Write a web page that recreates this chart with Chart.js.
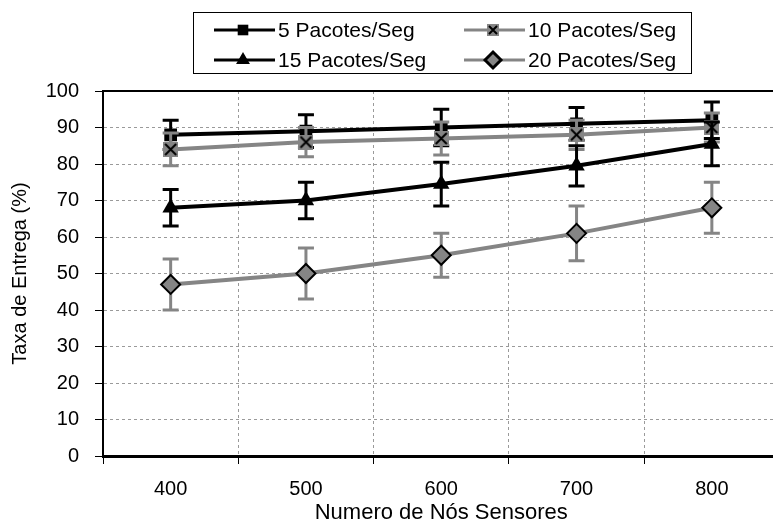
<!DOCTYPE html>
<html>
<head>
<meta charset="utf-8">
<script src="https://cdn.jsdelivr.net/npm/chart.js@4.4.0/dist/chart.umd.min.js"></script>
<style>
    html, body { margin: 0; padding: 0; background: #fff; overflow: hidden; }
    #wrap { width: 773px; height: 522px; overflow: hidden; }
</style>
</head>
<body>
<div id="wrap"><canvas id="entregaChart" width="791" height="522"></canvas></div>
<script>
// ---------------- data ----------------
var sensores = ['400', '500', '600', '700', '800'];
var nomes = ['5 Pacotes/Seg', '10 Pacotes/Seg', '15 Pacotes/Seg', '20 Pacotes/Seg'];
var taxa5  = [88, 89, 90, 91, 92];
var erro5  = [4, 4.5, 5, 4.5, 5];
var taxa10 = [84, 86, 87, 88, 90];
var erro10 = [4.5, 4, 4.5, 4, 4];
var taxa15 = [68, 70, 74.5, 79.5, 85.5];
var erro15 = [5, 5, 6, 5.5, 6];
var taxa20 = [47, 50, 55, 61, 68];
var erro20 = [7, 7, 6, 7.5, 7];
var yMin = 0, yMax = 100, yStep = 10;

var GRAY = '#858585';
var FONT = 'Liberation Sans, Arial, sans-serif';

// gray square with a black X (marker of 10 Pacotes/Seg)
function makeXBox(size) {
    var c = document.createElement('canvas');
    c.width = size; c.height = size;
    var g = c.getContext('2d');
    g.fillStyle = GRAY;
    g.fillRect(0, 0, size, size);
    g.strokeStyle = '#000';
    g.lineWidth = 2;
    g.beginPath();
    g.moveTo(2, 2); g.lineTo(size - 2, size - 2);
    g.moveTo(size - 2, 2); g.lineTo(2, size - 2);
    g.stroke();
    return c;
}
var xBox = makeXBox(15);
var xBoxSmall = makeXBox(12);

//--------- error bars, drawn under each dataset ---------
var errorBarsPlugin = {
    id: 'errorBars',
    beforeDatasetDraw: function(chart, args) {
        var ds = chart.data.datasets[args.index];
        var yScale = chart.scales.y;
        var ctx = chart.ctx;
        ctx.save();
        ctx.strokeStyle = ds.borderColor;
        ctx.lineWidth = 3;
        args.meta.data.forEach(function(pt, i) {
            var top = yScale.getPixelForValue(ds.data[i] + ds.errors[i]);
            var bot = yScale.getPixelForValue(ds.data[i] - ds.errors[i]);
            ctx.beginPath();
            ctx.moveTo(pt.x, top); ctx.lineTo(pt.x, bot);
            ctx.moveTo(pt.x - 8, top); ctx.lineTo(pt.x + 8, top);
            ctx.moveTo(pt.x - 8, bot); ctx.lineTo(pt.x + 8, bot);
            ctx.stroke();
        });
        ctx.restore();
    }
};

//--------- top border + boxed legend ---------
var framePlugin = {
    id: 'frame',
    beforeDatasetsDraw: function(chart) {
        var a = chart.chartArea, ctx = chart.ctx;
        ctx.save();
        ctx.strokeStyle = '#000';
        ctx.lineWidth = 2;
        ctx.beginPath();
        ctx.moveTo(a.left, a.top);
        ctx.lineTo(a.right, a.top);
        ctx.stroke();
        ctx.restore();
    },
    afterDraw: function(chart) {
        var ctx = chart.ctx;
        ctx.save();
        ctx.fillStyle = '#fff';
        ctx.fillRect(193, 12, 499, 62);
        ctx.strokeStyle = '#000';
        ctx.lineWidth = 1;
        ctx.strokeRect(193.5, 12.5, 498, 61);
        var pos = [[214, 30], [464, 30], [214, 60], [464, 60]];
        chart.data.datasets.forEach(function(ds, i) {
            var x = pos[i][0], y = pos[i][1];
            ctx.strokeStyle = ds.borderColor;
            ctx.lineWidth = 3;
            ctx.beginPath();
            ctx.moveTo(x, y); ctx.lineTo(x + 61, y);
            ctx.stroke();
            ctx.fillStyle = ds.pointBackgroundColor;
            ctx.strokeStyle = ds.pointBorderColor;
            var style = ds.pointStyle === xBox ? xBoxSmall : ds.pointStyle;
            Chart.helpers.drawPoint(ctx, {
                pointStyle: style,
                radius: ds.pointRadius - 1.5,
                rotation: 0,
                borderWidth: ds.pointBorderWidth
            }, x + 29, y);
            ctx.fillStyle = '#000';
            ctx.font = '21px ' + FONT;
            ctx.textBaseline = 'middle';
            ctx.textAlign = 'left';
            ctx.fillText(ds.label, x + 64, y + 1);
        });
        ctx.restore();
    }
};

function serie(label, data, errors, color, style, radius, fill, borderW, order) {
    return {
        label: label,
        data: data,
        errors: errors,
        borderColor: color,
        borderWidth: 4,
        tension: 0,
        fill: false,
        pointStyle: style,
        pointRadius: radius,
        pointHoverRadius: radius,
        pointBackgroundColor: fill,
        pointBorderColor: '#000',
        pointBorderWidth: borderW,
        order: order
    };
}

var ctxEntrega = document.getElementById('entregaChart');
var chartEntrega = new Chart(ctxEntrega, {
    type: 'line',
    data: {
        labels: sensores,
        datasets: [
            serie(nomes[0], taxa5, erro5, '#000', 'rect', 9, '#000', 0, 4),
            serie(nomes[1], taxa10, erro10, GRAY, xBox, 8, GRAY, 0, 3),
            serie(nomes[2], taxa15, erro15, '#000', 'triangle', 9.5, '#000', 0, 2),
            serie(nomes[3], taxa20, erro20, GRAY, 'rectRot', 9.5, GRAY, 2, 1)
        ]
    },
    options: {
        responsive: false,
        animation: false,
        layout: { padding: { top: 91, left: 0, right: 0, bottom: 0 } },
        plugins: {
            legend: { display: false },
            tooltip: { enabled: false }
        },
        scales: {
            x: {
                offset: true,
                afterFit: function(scale) { scale.height = 66; },
                grid: {
                    offset: true,
                    color: '#9a9a9a',
                    tickColor: '#000',
                    tickLength: 8,
                    tickBorderDash: []
                },
                border: { color: '#000', width: 3, dash: [3, 3] },
                ticks: { color: '#000', font: { family: FONT, size: 20 }, padding: 13 },
                title: {
                    display: true,
                    text: 'Numero de Nós Sensores',
                    color: '#000',
                    font: { family: FONT, size: 22 },
                    padding: { top: 0, bottom: -4 }
                }
            },
            y: {
                min: yMin,
                max: yMax,
                afterFit: function(scale) { scale.width = 103; },
                grid: {
                    color: '#9a9a9a',
                    tickColor: '#000',
                    tickLength: 8,
                    tickBorderDash: []
                },
                border: { color: '#000', width: 2, dash: [3, 3] },
                ticks: { stepSize: yStep, color: '#000', font: { family: FONT, size: 20 }, padding: 16 },
                title: {
                    display: true,
                    text: 'Taxa de Entrega (%)',
                    color: '#000',
                    font: { family: FONT, size: 20 },
                    padding: { top: 8, bottom: 0 }
                }
            }
        }
    },
    plugins: [errorBarsPlugin, framePlugin]
});
</script>
</body>
</html>
